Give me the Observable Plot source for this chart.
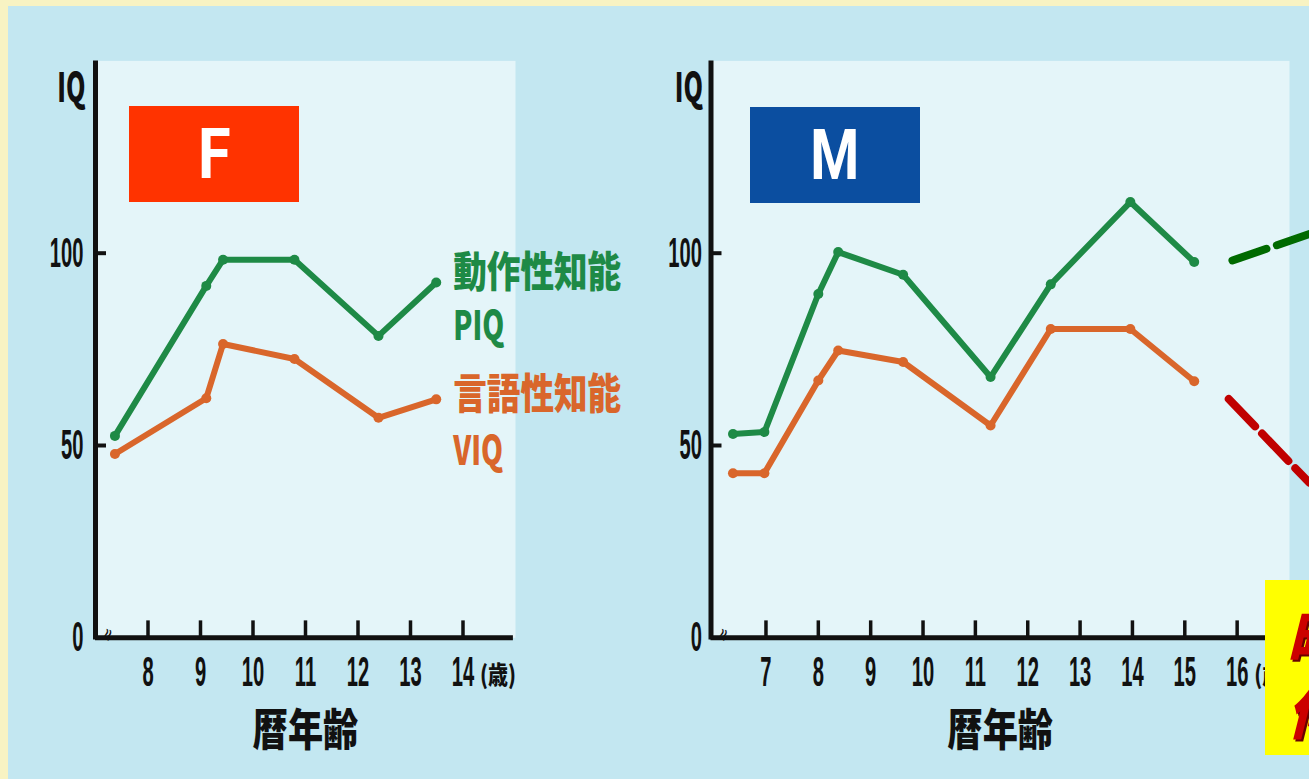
<!DOCTYPE html>
<html><head><meta charset="utf-8">
<script src="https://cdn.jsdelivr.net/npm/d3@7"></script>
<script src="https://cdn.jsdelivr.net/npm/@observablehq/plot@0.6"></script>
<style>
html,body{margin:0;padding:0;width:1309px;height:779px;overflow:hidden;background:#f8f3c3;}
#panel{position:absolute;left:8px;top:6px;right:0;bottom:0;background:#c3e7f1;}
#f,#m{position:absolute;top:0;}
#f{left:0;} #m{left:640px;}
.box{position:absolute;color:#fff;display:flex;align-items:center;justify-content:center;font-family:Roboto,"Liberation Sans",sans-serif;font-weight:700;font-size:70px;line-height:1;}
.box span{display:inline-block;}
#yellow{position:absolute;left:1265px;top:580px;width:60px;height:175px;background:#ffff00;overflow:hidden;
  box-sizing:border-box;padding-left:22px;padding-top:18px;font-family:"Noto Sans CJK JP",sans-serif;font-weight:900;font-style:italic;
  font-size:58px;line-height:74px;color:#cc0000;text-shadow:2px 2px 0 #6a0000;white-space:nowrap;}
</style></head><body>
<div id="panel"></div>
<div id="f"></div>
<div id="m"></div>
<div class="box" style="left:129px;top:106px;width:170px;height:96px;background:#ff3300"><span style="transform:scaleX(0.85)">F</span></div>
<div class="box" style="left:750px;top:107px;width:170px;height:96px;background:#0b4ea0"><span style="transform:scaleX(0.8)">M</span></div>
<div id="yellow">時期<br>伸び</div>
<script>
// ---- data ----
const fAge = [7.37, 9.11, 9.43, 10.79, 12.39, 13.49];
const fPIQ = [52.5, 91.5, 98.3, 98.3, 78.5, 92.4];
const fVIQ = [47.8, 62.3, 76.4, 72.5, 57.2, 62.0];

const mAge = [6.37, 6.97, 8.0, 8.38, 9.62, 11.29, 12.44, 13.96, 15.18];
const mPIQ = [53.0, 53.5, 89.4, 100.3, 94.4, 67.8, 91.9, 113.3, 97.7];
const mVIQ = [42.8, 42.8, 66.9, 74.7, 71.7, 55.2, 80.3, 80.3, 66.7];

const piqTrendAge = [15.91, 17.38];
const piqTrend = [98.1, 105.0];
const viqTrendAge = [15.84, 17.38];
const viqTrend = [62.1, 40.3];

const fTicks = [8, 9, 10, 11, 12, 13, 14];
const mTicks = [7, 8, 9, 10, 11, 12, 13, 14, 15, 16];
const yTickLabels = [0, 50, 100];
const yTickMarks = [50, 100];
const seriesNames = ["動作性知能", "言語性知能"];
const seriesCodes = ["PIQ", "VIQ"];
const xTitle = "暦年齢";
const yTitle = "IQ";
const ageUnit = "(歳)";

// ---- style ----
const green = "#1e8a46", orange = "#d9662b", ink = "#111";
const latin = "Liberation Sans, Arial, sans-serif";
const cjk = "Noto Sans CJK JP, sans-serif";

function squeeze(svg) {
  d3.select(svg).selectAll("text").each(function () {
    const t = this.textContent;
    let f;
    if (/^\d+$/.test(t)) f = 0.48;
    else if (/^[A-Z]{2}$/.test(t)) f = 0.62;
    else if (/^[A-Z]{3}$/.test(t)) f = 0.7;
    else if (/[\u3000-\u9fff]/.test(t)) f = 0.8;
    else return;
    const tr = this.getAttribute("transform") || "";
    this.setAttribute("transform", tr + ` scale(${f},1)`);
  });
}

function chart(o) {
  const rows = o.ages.map((a, i) => ({age: a, piq: o.piq[i], viq: o.viq[i]}));
  const x0 = o.xDomain[0];
  const last = rows[rows.length - 1];
  const marks = [
    Plot.frame({fill: "#e4f5f9", stroke: "none"}),
    ...(o.extra || []),
    Plot.ruleY([0], {x1: o.xDomain[0], x2: o.axisEnd, stroke: ink, strokeWidth: 5}),
    Plot.ruleX([x0], {y1: -0.6, y2: 150, stroke: ink, strokeWidth: 5}),
    Plot.ruleX(o.xTicks, {y1: 0, y2: 4.4, stroke: ink, strokeWidth: 3.5}),
    Plot.ruleY(yTickMarks, {x1: x0, x2: x0 + 0.21, stroke: ink, strokeWidth: 4}),
    Plot.axisX(o.xTicks, {tickSize: 0, tickPadding: 18, fontSize: 42, fontFamily: latin, fontWeight: "bold", label: null}),
    Plot.axisY(yTickLabels, {tickSize: 0, tickPadding: o.yPad, fontSize: 42, fontFamily: latin, fontWeight: "bold", label: null}),
    Plot.text([yTitle], {x: x0, y: 150, textAnchor: "end", dx: o.iqDx, dy: 28, fontSize: 40, fontFamily: cjk, fontWeight: 900}),
    Plot.text(["≈"], {x: x0, y: 0, dx: 12, dy: -3, rotate: -72, fontSize: 17, fontFamily: "DejaVu Sans", fill: ink}),
    Plot.text([ageUnit], {x: o.xTicks[o.xTicks.length - 1], y: 0, dx: 35, dy: 38, fontSize: 25, fontFamily: cjk, fontWeight: 900}),
    Plot.text([xTitle], {frameAnchor: "bottom", lineAnchor: "middle", dy: 94, fontSize: 44, fontFamily: cjk, fontWeight: 900}),
    Plot.line(rows, {x: "age", y: "viq", stroke: orange, strokeWidth: 6, strokeLinejoin: "round"}),
    Plot.dot(rows, {x: "age", y: "viq", r: 5, fill: orange}),
    Plot.line(rows, {x: "age", y: "piq", stroke: green, strokeWidth: 6, strokeLinejoin: "round"}),
    Plot.dot(rows, {x: "age", y: "piq", r: 5, fill: green})
  ];
  if (o.labels) {
    marks.push(
      Plot.text([last], {x: "age", y: "piq", text: () => seriesNames[0], textAnchor: "start", dx: 17, dy: -9, fill: green, fontSize: 42, fontFamily: cjk, fontWeight: 900}),
      Plot.text([last], {x: "age", y: "piq", text: () => seriesCodes[0], textAnchor: "start", dx: 17, dy: 45, fill: green, fontSize: 40, fontFamily: cjk, fontWeight: 900}),
      Plot.text([last], {x: "age", y: "viq", text: () => seriesNames[1], textAnchor: "start", dx: 17, dy: -4, fill: orange, fontSize: 42, fontFamily: cjk, fontWeight: 900}),
      Plot.text([last], {x: "age", y: "viq", text: () => seriesCodes[1], textAnchor: "start", dx: 17, dy: 53, fill: orange, fontSize: 40, fontFamily: cjk, fontWeight: 900})
    );
  }
  const svg = Plot.plot({
    width: o.width, height: 779,
    marginLeft: o.marginLeft, marginRight: o.marginRight, marginTop: 60.4, marginBottom: 141.7,
    style: "background: transparent; overflow: visible; max-width: none; color: #111;",
    x: {domain: o.xDomain, axis: null},
    y: {domain: [0, 150], axis: null},
    marks
  });
  squeeze(svg);
  return svg;
}

const trendG = piqTrendAge.map((a, i) => ({age: a, v: piqTrend[i]}));
const trendR = viqTrendAge.map((a, i) => ({age: a, v: viqTrend[i]}));

document.getElementById("f").appendChild(chart({
  ages: fAge, piq: fPIQ, viq: fVIQ, xDomain: [7.0, 15.0], axisEnd: 14.96, xTicks: fTicks,
  width: 640, marginLeft: 95, marginRight: 125, yPad: 12, iqDx: -10, labels: true
}));

document.getElementById("m").appendChild(chart({
  ages: mAge, piq: mPIQ, viq: mVIQ, xDomain: [5.95, 17.0], axisEnd: 17.0, xTicks: mTicks,
  width: 669, marginLeft: 70.5, marginRight: 20, yPad: 9, iqDx: -8, labels: false,
  extra: [
    Plot.line(trendG, {x: "age", y: "v", stroke: "#006a00", strokeWidth: 8, strokeDasharray: "36,11"}),
    Plot.line(trendR, {x: "age", y: "v", stroke: "#c00000", strokeWidth: 8, strokeDasharray: "38,10"})
  ]
}));
</script>
</body></html>
